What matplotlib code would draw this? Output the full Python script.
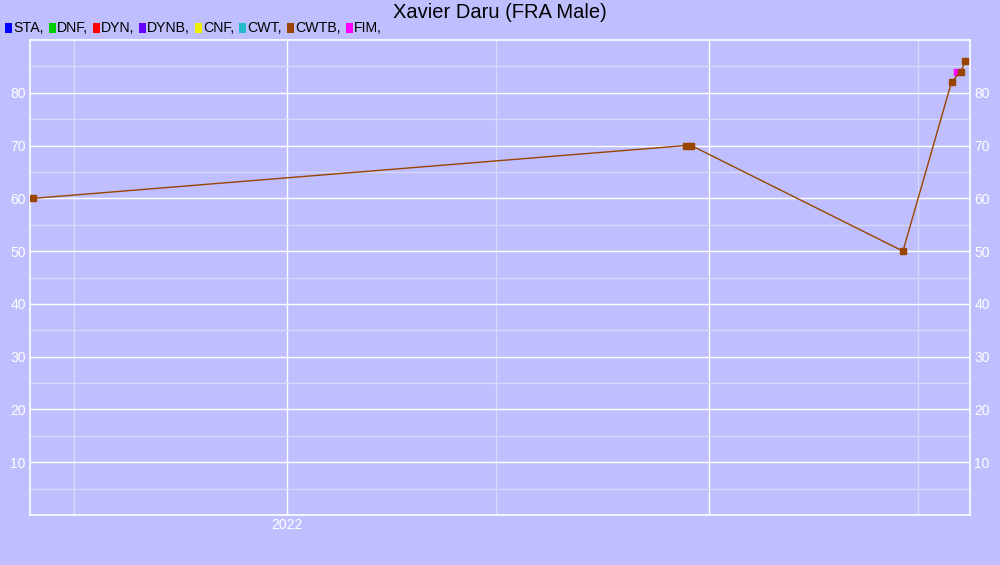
import matplotlib
matplotlib.use('Agg')
import matplotlib.pyplot as plt
from matplotlib.patches import Rectangle
import numpy as np
from datetime import datetime

plt.rcParams['font.family'] = ['Liberation Sans', 'DejaVu Sans']

# данные
disciplines = ['STA', 'DNF', 'DYN', 'DYNB', 'CNF', 'CWT', 'CWTB', 'FIM']
colors = ['#0000ff', '#00cc00', '#ff0000', '#6600ff', '#eeee00', '#22bbcc', '#994400', '#ff00ff']

cwtb_dates = ['2021-05-27', '2022-12-12', '2022-12-17', '2023-06-18',
              '2023-07-30', '2023-08-07', '2023-08-11']
cwtb_values = [60, 70, 70, 50, 82, 84, 86]

fim_dates = ['2023-08-04']
fim_values = [84]

x_start = '2021-05-24'
x_end = '2023-08-15'

bg = '#bfbfff'
minor_col = '#d8d8f8'

fig = plt.figure(figsize=(10, 5.65), dpi=100, facecolor=bg)
ax = fig.add_axes([0.03, 1 - 515 / 565, 0.94, 475 / 565])
ax.set_facecolor(bg)

to_dt = lambda lst: [datetime.strptime(d, '%Y-%m-%d') for d in lst]

ax.plot(to_dt(fim_dates), fim_values, color=colors[7], marker='s', ms=3.8,
        lw=1, zorder=3)
ax.plot(to_dt(cwtb_dates), cwtb_values, color=colors[6], marker='s', ms=3.8,
        lw=1, zorder=4)

ax.set_xlim(datetime.strptime(x_start, '%Y-%m-%d'), datetime.strptime(x_end, '%Y-%m-%d'))
ax.set_ylim(0, 90)

# сетка
ax.set_yticks(np.arange(10, 90, 10))
ax.set_yticks(np.arange(5, 90, 10), minor=True)
ax.set_xticks([datetime(2022, 1, 1), datetime(2023, 1, 1)])
ax.set_xticklabels(['2022', ''])
ax.set_xticks([datetime(2021, 7, 1), datetime(2022, 7, 1), datetime(2023, 7, 1)], minor=True)
ax.grid(which='major', color='white', lw=1)
ax.grid(which='minor', color=minor_col, lw=1)
ax.set_axisbelow(True)
ax.tick_params(which='both', length=0, colors='white', labelsize=10)
ax.tick_params(axis='y', labelright=True, pad=3)
ax.tick_params(axis='x', pad=2)
for s in ax.spines.values():
    s.set_color('white')
    s.set_linewidth(1.2)

fig.text(0.5, 1 - 13 / 565, 'Xavier Daru (FRA Male)', ha='center', va='center',
         fontsize=14.5, color='black')

# легенда вручную
fig.canvas.draw()
renderer = fig.canvas.get_renderer()
xpos = 5
for name, c in zip(disciplines, colors):
    fig.patches.append(Rectangle((xpos / 1000, (565 - 33) / 565), 7 / 1000, 10 / 565,
                                 transform=fig.transFigure, facecolor=c, edgecolor='none'))
    t = fig.text((xpos + 8) / 1000, (565 - 28) / 565, name + ',', ha='left',
                 va='center', fontsize=10.2, color='black')
    w = t.get_window_extent(renderer).width
    xpos = xpos + 8 + w + 5

fig.savefig('out.png', dpi=100, facecolor=bg)
